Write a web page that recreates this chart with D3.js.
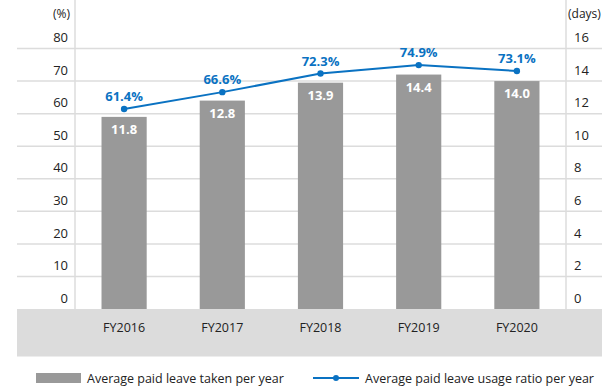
<!DOCTYPE html>
<html>
<head>
<meta charset="utf-8">
<script src="https://cdn.jsdelivr.net/npm/d3@7"></script>
<style>
  html, body { margin: 0; padding: 0; background: #fff; }
  svg { display: block; font-family: "Open Sans", "Noto Sans", sans-serif; }
</style>
</head>
<body>
<div id="chart"></div>
<script>
// Paid leave data by fiscal year
const years = ["FY2016", "FY2017", "FY2018", "FY2019", "FY2020"];
const leaveDays = [11.8, 12.8, 13.9, 14.4, 14.0];
const usageRatio = [61.4, 66.6, 72.3, 74.9, 73.1];
const leftTicks = [0, 10, 20, 30, 40, 50, 60, 70, 80];
const rightTicks = [0, 2, 4, 6, 8, 10, 12, 14, 16];
const barLabel = "Average paid leave taken per year";
const lineLabel = "Average paid leave usage ratio per year";

const W = 602, H = 390;
const plotLeft = 75, plotRight = 566, plotTop = 48.5, plotBottom = 309;

const svg = d3.select("#chart").append("svg")
  .attr("width", W).attr("height", H);

const x = d3.scaleBand().domain(years).range([plotLeft, plotRight]).paddingInner(0.54).paddingOuter(0.27);
const yL = d3.scaleLinear().domain([0, 80]).range([plotBottom, plotTop]);
const yR = d3.scaleLinear().domain([0, 16]).range([plotBottom, plotTop]);

const gridColor = "#dcdcdc";
const blue = "#0a72c2";

// category band at the bottom
svg.append("rect")
  .attr("x", 17).attr("y", plotBottom)
  .attr("width", W - 17).attr("height", 356.5 - plotBottom)
  .attr("fill", "#dcdcdc");

// horizontal gridlines
svg.append("g").selectAll("line")
  .data(leftTicks.filter(d => d > 0))
  .join("line")
  .attr("x1", 17).attr("x2", W)
  .attr("y1", d => yL(d)).attr("y2", d => yL(d))
  .attr("stroke", gridColor).attr("stroke-width", 1.5);

// vertical frame lines
[plotLeft, plotRight].forEach(px => {
  svg.append("line")
    .attr("x1", px).attr("x2", px)
    .attr("y1", 0).attr("y2", plotBottom)
    .attr("stroke", gridColor).attr("stroke-width", 1.5);
});

// left axis labels, sitting above their gridlines
const leftAxis = d3.axisLeft(yL).tickValues(leftTicks).tickSize(0).tickPadding(0);
const gl = svg.append("g").attr("transform", `translate(${plotLeft - 7},-11)`).call(leftAxis);
gl.select(".domain").remove();
gl.selectAll("text").attr("font-size", 13).attr("fill", "#222")
  .attr("font-family", "'Open Sans', sans-serif");

const rightAxis = d3.axisRight(yR).tickValues(rightTicks).tickSize(0).tickPadding(0);
const gr = svg.append("g").attr("transform", `translate(${plotRight + 8},-11)`).call(rightAxis);
gr.select(".domain").remove();
gr.selectAll("text").attr("font-size", 13).attr("fill", "#222")
  .attr("font-family", "'Open Sans', sans-serif");

// unit labels
svg.append("text").attr("x", plotLeft - 5).attr("y", 18)
  .attr("text-anchor", "end").attr("font-size", 12).attr("fill", "#222").text("(%)");
svg.append("text").attr("x", plotRight + 2).attr("y", 18)
  .attr("text-anchor", "start").attr("font-size", 12).attr("fill", "#222").text("(days)");

// bars
svg.append("g").selectAll("rect")
  .data(years)
  .join("rect")
  .attr("x", d => x(d))
  .attr("width", x.bandwidth())
  .attr("y", (d, i) => yR(leaveDays[i]))
  .attr("height", (d, i) => plotBottom - yR(leaveDays[i]))
  .attr("fill", "#999999");

// bar value labels
svg.append("g").selectAll("text")
  .data(years)
  .join("text")
  .attr("x", d => x(d) + x.bandwidth() / 2)
  .attr("y", (d, i) => yR(leaveDays[i]) + 17)
  .attr("text-anchor", "middle")
  .attr("font-size", 13).attr("font-weight", 700).attr("fill", "#fff")
  .text((d, i) => leaveDays[i].toFixed(1));

// usage ratio line
const cx = d => x(d) + x.bandwidth() / 2;
const line = d3.line().x(d => cx(d[0])).y(d => yL(d[1]));
const pts = years.map((d, i) => [d, usageRatio[i]]);
svg.append("path").datum(pts)
  .attr("d", line).attr("fill", "none")
  .attr("stroke", blue).attr("stroke-width", 2);
svg.append("g").selectAll("circle")
  .data(pts).join("circle")
  .attr("cx", d => cx(d[0])).attr("cy", d => yL(d[1]))
  .attr("r", 3.2).attr("fill", blue);
svg.append("g").selectAll("text")
  .data(pts).join("text")
  .attr("x", d => cx(d[0])).attr("y", d => yL(d[1]) - 8)
  .attr("text-anchor", "middle")
  .attr("font-size", 13).attr("font-weight", 700).attr("fill", blue)
  .text(d => d[1].toFixed(1) + "%");

// category labels
svg.append("g").selectAll("text")
  .data(years).join("text")
  .attr("x", d => cx(d)).attr("y", 332)
  .attr("text-anchor", "middle")
  .attr("font-size", 12.5).attr("fill", "#222")
  .text(d => d);

// legend
const ly = 378;
svg.append("rect").attr("x", 36).attr("y", ly - 5).attr("width", 45).attr("height", 10).attr("fill", "#999999");
svg.append("text").attr("x", 87).attr("y", ly + 4.5)
  .attr("font-size", 12.5).attr("fill", "#222").text(barLabel);
svg.append("line").attr("x1", 313).attr("x2", 359).attr("y1", ly).attr("y2", ly)
  .attr("stroke", blue).attr("stroke-width", 2);
svg.append("circle").attr("cx", 336).attr("cy", ly).attr("r", 3).attr("fill", blue);
svg.append("text").attr("x", 365).attr("y", ly + 4.5)
  .attr("font-size", 12.5).attr("fill", "#222").text(lineLabel);
</script>
</body>
</html>
